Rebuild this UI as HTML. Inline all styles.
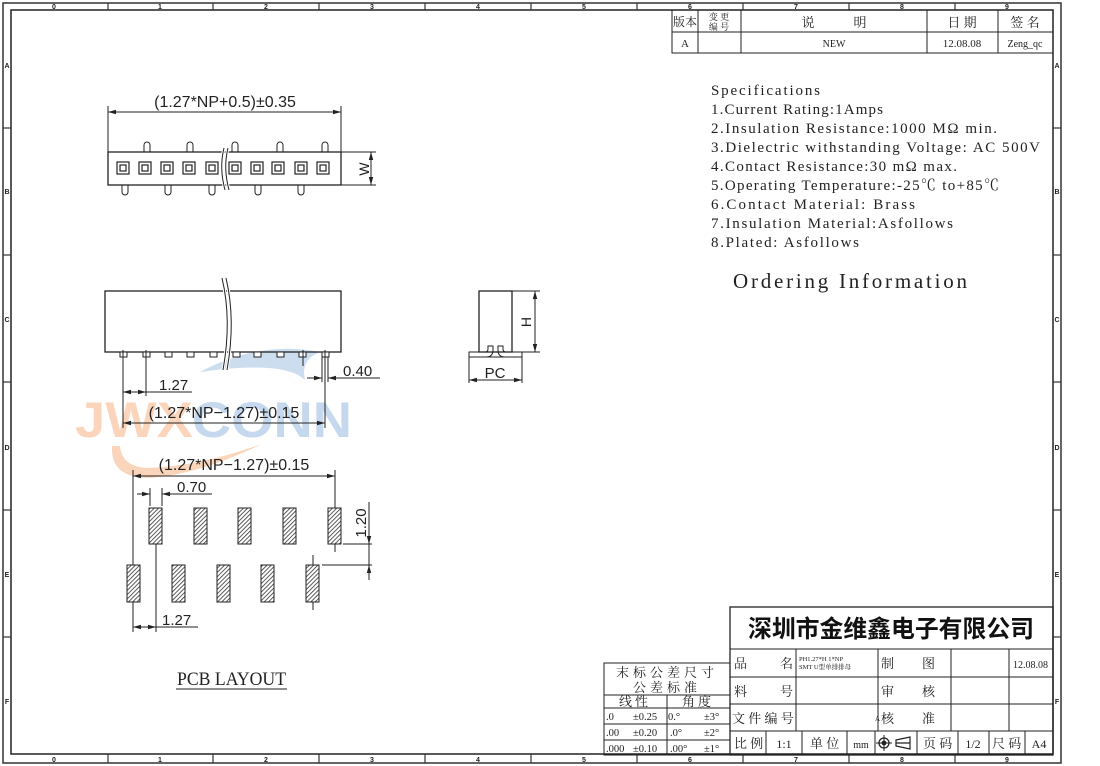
<!DOCTYPE html>
<html><head><meta charset="utf-8"><style>
html,body{margin:0;padding:0;background:#fff;}
svg{display:block;}
.s{font-family:"Liberation Serif","Noto Serif CJK SC",serif;fill:#222;}
.a{font-family:"Liberation Sans",sans-serif;fill:#222;}
.c{font-family:"Liberation Serif","Noto Serif CJK SC","Noto Sans CJK SC",serif;fill:#222;}
</style></head><body>
<svg width="1100" height="766" viewBox="0 0 1100 766" xmlns="http://www.w3.org/2000/svg">
<defs>
<marker id="ar" markerWidth="8" markerHeight="6" refX="8" refY="3" orient="auto-start-reverse" markerUnits="userSpaceOnUse"><path d="M0,0.8 L8,3 L0,5.2 Z" fill="#222"/></marker>
<pattern id="h" width="3" height="3" patternUnits="userSpaceOnUse" patternTransform="rotate(45)"><rect width="3" height="3" fill="#fff"/><line x1="0" y1="0" x2="0" y2="3" stroke="#333" stroke-width="1.6"/></pattern>
</defs>
<g opacity="0.45">
<path d="M200,372 Q260,340 320,352 Q300,360 305,380 Q285,360 200,372 Z" fill="#8fb4de"/>
<text x="75" y="437" font-family="Liberation Sans" font-weight="bold" font-size="50" fill="#f5a46a" textLength="118" lengthAdjust="spacingAndGlyphs">JWX</text>
<text x="192" y="437" font-family="Liberation Sans" font-weight="bold" font-size="50" fill="#7fa9d8" textLength="160" lengthAdjust="spacingAndGlyphs">CONN</text>
<path d="M112,446 Q110,478 150,478 Q200,474 262,444 Q200,466 150,468 Q122,468 120,446 Z" fill="#f5a46a"/>
</g>
<rect x="3" y="3" width="1058" height="760" fill="none" stroke="#333" stroke-width="1.5"/>
<rect x="11" y="10" width="1042" height="744" fill="none" stroke="#222" stroke-width="1.5"/>
<g stroke="#333" stroke-width="1.2">
<line x1="108" y1="3" x2="108" y2="10"/><line x1="213" y1="3" x2="213" y2="10"/><line x1="319" y1="3" x2="319" y2="10"/><line x1="425" y1="3" x2="425" y2="10"/><line x1="531" y1="3" x2="531" y2="10"/><line x1="637" y1="3" x2="637" y2="10"/><line x1="743" y1="3" x2="743" y2="10"/><line x1="849" y1="3" x2="849" y2="10"/><line x1="955" y1="3" x2="955" y2="10"/>
<line x1="108" y1="754" x2="108" y2="763"/><line x1="213" y1="754" x2="213" y2="763"/><line x1="319" y1="754" x2="319" y2="763"/><line x1="425" y1="754" x2="425" y2="763"/><line x1="531" y1="754" x2="531" y2="763"/><line x1="637" y1="754" x2="637" y2="763"/><line x1="743" y1="754" x2="743" y2="763"/><line x1="849" y1="754" x2="849" y2="763"/><line x1="955" y1="754" x2="955" y2="763"/>
<line x1="3" y1="128" x2="11" y2="128"/><line x1="3" y1="255" x2="11" y2="255"/><line x1="3" y1="382" x2="11" y2="382"/><line x1="3" y1="510" x2="11" y2="510"/><line x1="3" y1="637" x2="11" y2="637"/>
<line x1="1053" y1="128" x2="1061" y2="128"/><line x1="1053" y1="255" x2="1061" y2="255"/><line x1="1053" y1="382" x2="1061" y2="382"/><line x1="1053" y1="510" x2="1061" y2="510"/><line x1="1053" y1="637" x2="1061" y2="637"/>
</g>
<g class="a" font-size="7" font-weight="bold" text-anchor="middle">
<text x="54" y="9">0</text><text x="160" y="9">1</text><text x="266" y="9">2</text><text x="372" y="9">3</text><text x="478" y="9">4</text><text x="584" y="9">5</text><text x="690" y="9">6</text><text x="796" y="9">7</text><text x="902" y="9">8</text><text x="1007" y="9">9</text>
<text x="54" y="762">0</text><text x="160" y="762">1</text><text x="266" y="762">2</text><text x="372" y="762">3</text><text x="478" y="762">4</text><text x="584" y="762">5</text><text x="690" y="762">6</text><text x="796" y="762">7</text><text x="902" y="762">8</text><text x="1007" y="762">9</text>
<text x="7" y="68">A</text><text x="7" y="194">B</text><text x="7" y="322">C</text><text x="7" y="450">D</text><text x="7" y="577">E</text><text x="7" y="704">F</text>
<text x="1057" y="68">A</text><text x="1057" y="194">B</text><text x="1057" y="322">C</text><text x="1057" y="450">D</text><text x="1057" y="577">E</text><text x="1057" y="704">F</text>
</g>

<g stroke="#222" stroke-width="1" fill="none">
<line x1="108" y1="112" x2="341" y2="112" marker-start="url(#ar)" marker-end="url(#ar)"/>
<line x1="108" y1="106" x2="108" y2="152"/><line x1="341" y1="106" x2="341" y2="152"/>
<rect x="108" y="152" width="233" height="33" stroke-width="1.3"/>
<path d="M144,152 V145 a3,3 0 0 1 6,0 V152 M187,152 V145 a3,3 0 0 1 6,0 V152 M232,152 V145 a3,3 0 0 1 6,0 V152 M277,152 V145 a3,3 0 0 1 6,0 V152 M322,152 V145 a3,3 0 0 1 6,0 V152"/>
<path d="M122,185 V192 a3,3 0 0 0 6,0 V185 M165,185 V192 a3,3 0 0 0 6,0 V185 M209,185 V192 a3,3 0 0 0 6,0 V185 M255,185 V192 a3,3 0 0 0 6,0 V185 M298,185 V192 a3,3 0 0 0 6,0 V185"/>
<g stroke-width="1.2">
<rect x="117" y="162" width="12" height="12"/><rect x="139" y="162" width="12" height="12"/><rect x="161" y="162" width="12" height="12"/><rect x="183" y="162" width="12" height="12"/><rect x="206" y="162" width="12" height="12"/><rect x="229" y="162" width="12" height="12"/><rect x="251" y="162" width="12" height="12"/><rect x="272" y="162" width="12" height="12"/><rect x="295" y="162" width="12" height="12"/><rect x="317" y="162" width="12" height="12"/>
<rect x="120" y="165" width="6" height="6"/><rect x="142" y="165" width="6" height="6"/><rect x="164" y="165" width="6" height="6"/><rect x="186" y="165" width="6" height="6"/><rect x="209" y="165" width="6" height="6"/><rect x="232" y="165" width="6" height="6"/><rect x="254" y="165" width="6" height="6"/><rect x="275" y="165" width="6" height="6"/><rect x="298" y="165" width="6" height="6"/><rect x="320" y="165" width="6" height="6"/>
</g>
<path d="M224,148 Q219,168 225,190 M228,148 Q223,168 229,190" stroke="#fff" stroke-width="3"/>
<path d="M224,148 Q219,168 225,190 M228,148 Q223,168 229,190"/>
<line x1="341" y1="152" x2="376" y2="152"/><line x1="341" y1="185" x2="376" y2="185"/>
<line x1="371" y1="152" x2="371" y2="185" marker-start="url(#ar)" marker-end="url(#ar)"/>
</g>
<text class="a" x="225" y="107" font-size="16" text-anchor="middle">(1.27*NP+0.5)±0.35</text>
<text class="a" font-size="14" transform="translate(369,169) rotate(-90)" text-anchor="middle">W</text>

<g stroke="#222" stroke-width="1" fill="none">
<rect x="105" y="291" width="236" height="61" stroke-width="1.3"/>
<g fill="#fff">
<rect x="120" y="352" width="7" height="5"/><rect x="143" y="352" width="7" height="5"/><rect x="165" y="352" width="7" height="5"/><rect x="187" y="352" width="7" height="5"/><rect x="210" y="352" width="7" height="5"/><rect x="233" y="352" width="7" height="5"/><rect x="254" y="352" width="7" height="5"/><rect x="277" y="352" width="7" height="5"/><rect x="299" y="352" width="7" height="5"/><rect x="322" y="352" width="7" height="5"/>
</g>
<path d="M222,278 Q232,320 223,370 M226,278 Q236,320 227,370" stroke="#fff" stroke-width="3"/>
<path d="M222,278 Q232,320 223,370 M226,278 Q236,320 227,370"/>
<line x1="123" y1="350" x2="123" y2="428"/><line x1="146" y1="350" x2="146" y2="396"/><line x1="325" y1="350" x2="325" y2="428"/><line x1="303" y1="350" x2="303" y2="366"/>
<line x1="322" y1="357" x2="322" y2="382"/><line x1="328" y1="357" x2="328" y2="382"/>
<line x1="123" y1="392" x2="146" y2="392" marker-start="url(#ar)" marker-end="url(#ar)"/>
<line x1="146" y1="392" x2="192" y2="392"/>
<line x1="123" y1="423" x2="325" y2="423" marker-start="url(#ar)" marker-end="url(#ar)"/>
<line x1="307" y1="378" x2="322" y2="378" marker-end="url(#ar)"/>
<line x1="344" y1="378" x2="328" y2="378" marker-end="url(#ar)"/>
<line x1="328" y1="378" x2="380" y2="378"/>
</g>
<text class="a" x="159" y="390" font-size="15">1.27</text>
<text class="a" x="224" y="418" font-size="16" text-anchor="middle">(1.27*NP−1.27)±0.15</text>
<text class="a" x="343" y="376" font-size="15">0.40</text>

<g stroke="#222" stroke-width="1" fill="none">
<rect x="479" y="291" width="33" height="61" stroke-width="1.3"/>
<path d="M469,357 V352 H485 Q488,352 488,349 V346 H493 V350 Q493,357 486,357 Z"/>
<path d="M522,357 V352 H506 Q503,352 503,349 V346 H498 V350 Q498,357 505,357 Z"/>
<line x1="486" y1="357" x2="505" y2="357"/>
<line x1="512" y1="291" x2="540" y2="291"/><line x1="512" y1="352" x2="540" y2="352"/>
<line x1="535" y1="291" x2="535" y2="352" marker-start="url(#ar)" marker-end="url(#ar)"/>
<line x1="469" y1="357" x2="469" y2="383"/><line x1="522" y1="357" x2="522" y2="383"/>
<line x1="469" y1="380" x2="522" y2="380" marker-start="url(#ar)" marker-end="url(#ar)"/>
</g>
<text class="a" font-size="14" transform="translate(531,322) rotate(-90)" text-anchor="middle">H</text>
<text class="a" x="495" y="378" font-size="15" text-anchor="middle">PC</text>

<g stroke="#222" stroke-width="1" fill="none">
<line x1="133" y1="476" x2="335" y2="476" marker-start="url(#ar)" marker-end="url(#ar)"/>
<line x1="133" y1="470" x2="133" y2="632"/><line x1="335" y1="470" x2="335" y2="552"/>
<line x1="150" y1="488" x2="150" y2="506"/><line x1="162" y1="488" x2="162" y2="506"/>
<line x1="137" y1="494" x2="150" y2="494" marker-end="url(#ar)"/>
<line x1="176" y1="494" x2="162" y2="494" marker-end="url(#ar)"/>
<line x1="162" y1="494" x2="212" y2="494"/>
<line x1="156" y1="544" x2="156" y2="632"/>
<line x1="133" y1="627" x2="156" y2="627" marker-start="url(#ar)" marker-end="url(#ar)"/>
<line x1="156" y1="627" x2="198" y2="627"/>
<line x1="313" y1="555" x2="313" y2="610"/>
<line x1="343" y1="544" x2="372" y2="544"/><line x1="322" y1="565" x2="372" y2="565"/>
<line x1="369" y1="502" x2="369" y2="580"/>
<line x1="369" y1="530" x2="369" y2="544" marker-end="url(#ar)"/>
<line x1="369" y1="580" x2="369" y2="565" marker-end="url(#ar)"/>
<g fill="url(#h)" stroke="#222">
<rect x="149" y="508" width="13" height="36"/><rect x="194" y="508" width="13" height="36"/><rect x="238" y="508" width="13" height="36"/><rect x="283" y="508" width="13" height="36"/><rect x="328" y="508" width="13" height="36"/>
<rect x="127" y="565" width="13" height="37"/><rect x="172" y="565" width="13" height="37"/><rect x="217" y="565" width="13" height="37"/><rect x="261" y="565" width="13" height="37"/><rect x="306" y="565" width="13" height="37"/>
</g>
</g>
<text class="a" x="234" y="470" font-size="16" text-anchor="middle">(1.27*NP−1.27)±0.15</text>
<text class="a" x="177" y="492" font-size="15">0.70</text>
<text class="a" x="162" y="625" font-size="15">1.27</text>
<text class="a" font-size="15" transform="translate(366,523) rotate(-90)" text-anchor="middle">1.20</text>
<text class="s" x="177" y="685" font-size="19" textLength="109" lengthAdjust="spacingAndGlyphs">PCB LAYOUT</text>
<line x1="176" y1="689" x2="287" y2="689" stroke="#222" stroke-width="1"/>

<g class="s" font-size="15" lengthAdjust="spacingAndGlyphs">
<text x="711" y="95" textLength="109">Specifications</text>
<text x="711" y="114" textLength="172">1.Current Rating:1Amps</text>
<text x="711" y="133" textLength="286">2.Insulation Resistance:1000 MΩ min.</text>
<text x="711" y="152" textLength="329">3.Dielectric withstanding Voltage: AC 500V</text>
<text x="711" y="171" textLength="246">4.Contact Resistance:30 mΩ max.</text>
<text x="711" y="190" textLength="288">5.Operating Temperature:-25℃ to+85℃</text>
<text x="711" y="209" textLength="204">6.Contact Material:  Brass</text>
<text x="711" y="228" textLength="242">7.Insulation Material:Asfollows</text>
<text x="711" y="247" textLength="148">8.Plated: Asfollows</text>
<text x="733" y="288" font-size="21" textLength="234">Ordering Information</text>
</g>

<g stroke="#222" stroke-width="1" fill="none">
<rect x="672" y="10" width="381" height="43"/>
<line x1="672" y1="32" x2="1053" y2="32"/>
<line x1="698" y1="10" x2="698" y2="53"/><line x1="741" y1="10" x2="741" y2="53"/><line x1="927" y1="10" x2="927" y2="53"/><line x1="998" y1="10" x2="998" y2="53"/>
</g>
<g class="c" text-anchor="middle">
<text x="685" y="26" font-size="12">版本</text>
<text x="719" y="20" font-size="9">变 更</text><text x="719" y="30" font-size="9">编 号</text>
<text x="834" y="27" font-size="13">说　　　明</text>
<text x="962" y="27" font-size="13">日 期</text>
<text x="1025" y="27" font-size="13">签 名</text>
<text x="685" y="47" font-size="11">A</text>
<text x="834" y="47" font-size="10">NEW</text>
<text x="962" y="47" font-size="11">12.08.08</text>
<text x="1025" y="47" font-size="10">Zeng_qc</text>
</g>

<g stroke="#222" stroke-width="1" fill="none">
<rect x="730" y="607" width="323" height="148" stroke-width="1.3"/>
<line x1="730" y1="649" x2="1053" y2="649"/><line x1="730" y1="677" x2="1053" y2="677"/><line x1="730" y1="704" x2="1053" y2="704"/><line x1="730" y1="731" x2="1053" y2="731"/>
<line x1="796" y1="649" x2="796" y2="731"/><line x1="878" y1="649" x2="878" y2="731"/><line x1="951" y1="649" x2="951" y2="731"/><line x1="1009" y1="649" x2="1009" y2="731"/>
<line x1="766" y1="731" x2="766" y2="755"/><line x1="802" y1="731" x2="802" y2="755"/><line x1="847" y1="731" x2="847" y2="755"/><line x1="875" y1="731" x2="875" y2="755"/><line x1="917" y1="731" x2="917" y2="755"/><line x1="958" y1="731" x2="958" y2="755"/><line x1="989" y1="731" x2="989" y2="755"/><line x1="1025" y1="731" x2="1025" y2="755"/>
<rect x="604" y="663" width="126" height="92"/>
<line x1="604" y1="695" x2="730" y2="695"/><line x1="604" y1="708" x2="730" y2="708"/><line x1="604" y1="724" x2="730" y2="724"/><line x1="604" y1="740" x2="730" y2="740"/>
<line x1="667" y1="695" x2="667" y2="755"/>
<circle cx="884" cy="743" r="5" stroke-width="1.3"/><circle cx="884" cy="743" r="2" fill="#222"/>
<line x1="876" y1="743" x2="892" y2="743"/><line x1="884" y1="735" x2="884" y2="751"/>
<path d="M896,740 L910,737 V749 L896,746 Z M896,743 H910" stroke-width="1.2"/>
</g>
<text x="891" y="637" font-family="Liberation Sans,'Noto Sans CJK SC',sans-serif" font-weight="bold" font-size="24" text-anchor="middle" fill="#111" textLength="286" lengthAdjust="spacingAndGlyphs">深圳市金维鑫电子有限公司</text>
<g class="c" font-size="13">
<text x="734" y="668">品</text><text x="780" y="668">名</text>
<text x="734" y="696">料</text><text x="780" y="696">号</text>
<text x="732" y="723">文 件 编 号</text>
<text x="881" y="668">制</text><text x="922" y="668">图</text>
<text x="881" y="696">审</text><text x="922" y="696">核</text>
<text x="881" y="723">核</text><text x="922" y="723">准</text>
<text x="734" y="748">比 例</text>
<text x="784" y="748" text-anchor="middle" font-size="12">1:1</text>
<text x="810" y="748">单 位</text>
<text x="861" y="748" text-anchor="middle" font-size="10">mm</text>
<text x="923" y="748">页 码</text>
<text x="973" y="748" text-anchor="middle" font-size="12">1/2</text>
<text x="992" y="748">尺 码</text>
<text x="1039" y="748" text-anchor="middle" font-size="12">A4</text>
<text x="1013" y="668" font-size="10">12.08.08</text>
<text x="799" y="661" font-size="6.5">PH1.27*H 1*NP</text>
<text x="799" y="669" font-size="6.5">SMT U型单排排母</text>
<text x="875" y="721" font-size="7">A</text>
<text x="667" y="677" text-anchor="middle" letter-spacing="4">末标公差尺寸</text>
<text x="667" y="692" text-anchor="middle" letter-spacing="4">公差标准</text>
<text x="635" y="706" text-anchor="middle" letter-spacing="3">线性</text>
<text x="698" y="706" text-anchor="middle" letter-spacing="3">角度</text>
<g font-size="10.5">
<text x="606" y="720">.0</text><text x="633" y="720">±0.25</text><text x="668" y="720">0.°</text><text x="704" y="720">±3°</text>
<text x="606" y="736">.00</text><text x="633" y="736">±0.20</text><text x="670" y="736">.0°</text><text x="704" y="736">±2°</text>
<text x="606" y="752">.000</text><text x="633" y="752">±0.10</text><text x="670" y="752">.00°</text><text x="704" y="752">±1°</text>
</g>
</g>
</svg>
</body></html>
